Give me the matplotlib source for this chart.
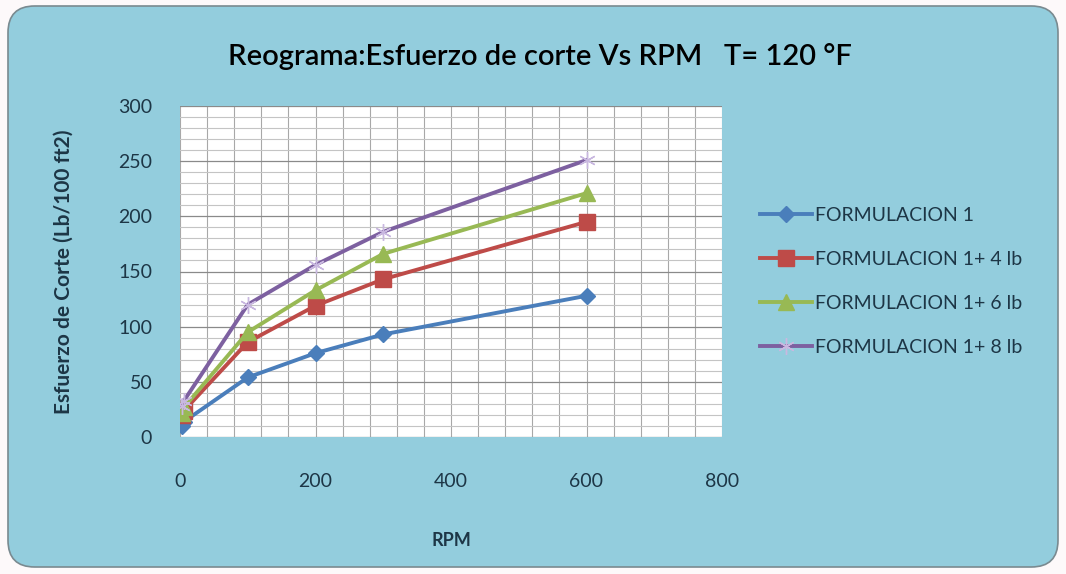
import matplotlib
matplotlib.use("Agg")
import matplotlib.pyplot as plt
from matplotlib.patches import FancyBboxPatch
from matplotlib.ticker import MultipleLocator

plt.rcParams['font.family'] = ['Lato', 'DejaVu Sans']

rpm = [3, 6, 100, 200, 300, 600]
f1 = [10, 14, 54, 76, 93, 128]
f1_4 = [20, 24, 86, 119, 143, 195]
f1_6 = [22, 27, 95, 133, 166, 221]
f1_8 = [28, 33, 120, 156, 186, 251]
labels = ["FORMULACION 1", "FORMULACION 1+ 4 lb", "FORMULACION 1+ 6 lb", "FORMULACION 1+ 8 lb"]
xticks = [0, 200, 400, 600, 800]
yticks = [0, 50, 100, 150, 200, 250, 300]

txt = '#1d3646'
bg = '#93CDDD'

fig = plt.figure(figsize=(10.66, 5.74), dpi=100)
fig.patch.set_facecolor('#fdf9fa')
frame = FancyBboxPatch((8/1066, 7/574), 1050/1066, 561/574,
                       boxstyle="round,pad=0,rounding_size=0.025",
                       transform=fig.transFigure, facecolor=bg,
                       edgecolor='#7a8a90', linewidth=1.2, zorder=-10,
                       mutation_aspect=1066/574)
fig.patches.append(frame)

ax = fig.add_axes([180/1066, 1-437/574, 542/1066, 331/574])
ax.set_facecolor('white')

styles = [
    dict(color='#4A7EBB', marker='D', markersize=8),
    dict(color='#BE4B48', marker='s', markersize=11),
    dict(color='#98B954', marker='^', markersize=11),
    dict(color='#7D60A0', marker=(6, 2, 0), markersize=12, markeredgecolor='#c9b8e0'),
]
for ys, lab, st in zip([f1, f1_4, f1_6, f1_8], labels, styles):
    ax.plot(rpm, ys, linewidth=2.8, label=lab, zorder=3, **st)

ax.set_xlim(0, 800)
ax.set_ylim(0, 300)
ax.set_xticks(xticks)
ax.set_yticks(yticks)
ax.xaxis.set_minor_locator(MultipleLocator(40))
ax.yaxis.set_minor_locator(MultipleLocator(10))
ax.grid(which='major', axis='y', color='#8a8a8a', linewidth=0.9)
ax.grid(which='minor', axis='y', color='#c4c4c4', linewidth=0.8)
ax.grid(which='both', axis='x', color='#a8a8a8', linewidth=0.8)
ax.set_axisbelow(True)
for s in ax.spines.values():
    s.set_visible(False)
ax.tick_params(which='both', length=0, colors=txt, labelsize=14)
ax.tick_params(axis='x', pad=26)
ax.tick_params(axis='y', pad=20)

ax.set_xlabel("RPM", fontsize=13, fontweight='bold', color=txt, labelpad=30)
ax.set_ylabel("Esfuerzo de Corte (Lb/100 ft2)", fontsize=15, fontweight='bold',
              color=txt, labelpad=32)
fig.text(540/1066, 1-57/574, "Reograma:Esfuerzo de corte Vs RPM   T= 120 °F",
         ha='center', va='center', fontsize=21, fontweight='semibold', color='black')

leg = ax.legend(loc='center left', bbox_to_anchor=(1.055, 0.47), frameon=False,
                fontsize=14, handlelength=2.7, labelspacing=1.4,
                handletextpad=0.15, borderaxespad=0)
for t in leg.get_texts():
    t.set_color(txt)

fig.savefig("out.png", dpi=100, facecolor=fig.get_facecolor())
